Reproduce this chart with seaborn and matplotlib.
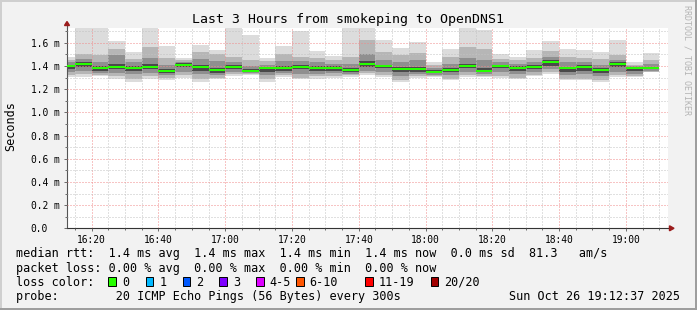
import numpy as np
import pandas as pd
import matplotlib
matplotlib.use("Agg")
import matplotlib.pyplot as plt
import matplotlib.transforms as mtransforms
from matplotlib.patches import Polygon, Rectangle
from matplotlib.lines import Line2D
import seaborn as sns

# ---------------- data ----------------
col_start = ["16:10", "16:15", "16:20", "16:25", "16:30", "16:35", "16:40", "16:45",
             "16:50", "16:55", "17:00", "17:05", "17:10", "17:15", "17:20", "17:25",
             "17:30", "17:35", "17:40", "17:45", "17:50", "17:55", "18:00", "18:05",
             "18:10", "18:15", "18:20", "18:25", "18:30", "18:35", "18:40", "18:45",
             "18:50", "18:55", "19:00", "19:05"]
window_start = "16:12:37"
window_end = "19:12:37"

median = [1.399, 1.414, 1.384, 1.393, 1.384, 1.393, 1.359, 1.412, 1.393, 1.365,
          1.393, 1.359, 1.379, 1.386, 1.395, 1.384, 1.386, 1.365, 1.418, 1.399,
          1.375, 1.377, 1.350, 1.365, 1.399, 1.359, 1.399, 1.384, 1.393, 1.433,
          1.379, 1.393, 1.365, 1.416, 1.384, 1.384]
ping_max = [1.475, 1.80, 1.80, 1.615, 1.517, 1.80, 1.574, 1.466, 1.580, 1.537,
            1.80, 1.666, 1.470, 1.574, 1.702, 1.531, 1.488, 1.80, 1.80, 1.620,
            1.557, 1.606, 1.430, 1.546, 1.80, 1.710, 1.503, 1.480, 1.537, 1.617,
            1.546, 1.537, 1.522, 1.623, 1.436, 1.509]
ping_hi2 = [1.45, 1.50, 1.49, 1.545, 1.46, 1.56, 1.47, 1.45, 1.52, 1.50,
            1.48, 1.45, 1.44, 1.50, 1.48, 1.47, 1.45, 1.48, 1.62, 1.52,
            1.49, 1.51, 1.41, 1.48, 1.56, 1.55, 1.46, 1.45, 1.47, 1.53,
            1.48, 1.47, 1.46, 1.49, 1.41, 1.45]
ping_hi3 = [1.43, 1.46, 1.43, 1.49, 1.43, 1.47, 1.41, 1.43, 1.46, 1.44,
            1.43, 1.40, 1.41, 1.44, 1.44, 1.43, 1.42, 1.42, 1.50, 1.45,
            1.43, 1.45, 1.38, 1.42, 1.47, 1.45, 1.43, 1.42, 1.43, 1.48,
            1.43, 1.43, 1.41, 1.45, 1.40, 1.42]
ping_hi4 = [1.41, 1.43, 1.40, 1.42, 1.40, 1.42, 1.375, 1.425, 1.41, 1.385,
            1.405, 1.375, 1.39, 1.40, 1.41, 1.40, 1.40, 1.38, 1.44, 1.41,
            1.39, 1.395, 1.365, 1.38, 1.42, 1.38, 1.41, 1.40, 1.41, 1.45,
            1.39, 1.41, 1.38, 1.43, 1.395, 1.395]
ping_lo4 = [1.37, 1.39, 1.36, 1.37, 1.36, 1.37, 1.34, 1.39, 1.36, 1.34,
            1.37, 1.345, 1.35, 1.36, 1.37, 1.36, 1.36, 1.35, 1.39, 1.38,
            1.35, 1.35, 1.335, 1.35, 1.38, 1.345, 1.38, 1.36, 1.37, 1.40,
            1.35, 1.36, 1.34, 1.39, 1.36, 1.37]
ping_lo3 = [1.35, 1.36, 1.34, 1.34, 1.33, 1.34, 1.32, 1.35, 1.33, 1.32,
            1.35, 1.335, 1.32, 1.34, 1.33, 1.33, 1.34, 1.33, 1.36, 1.35,
            1.31, 1.33, 1.325, 1.32, 1.35, 1.33, 1.35, 1.33, 1.35, 1.37,
            1.32, 1.33, 1.31, 1.35, 1.33, 1.36]
ping_lo2 = [1.32, 1.33, 1.325, 1.31, 1.29, 1.31, 1.30, 1.32, 1.29, 1.30,
            1.33, 1.33, 1.29, 1.32, 1.30, 1.31, 1.31, 1.32, 1.34, 1.32,
            1.28, 1.31, 1.315, 1.29, 1.32, 1.315, 1.31, 1.30, 1.325, 1.345,
            1.29, 1.29, 1.28, 1.32, 1.315, 1.35]
ping_min = [1.302, 1.307, 1.313, 1.290, 1.264, 1.287, 1.278, 1.298, 1.264, 1.287,
            1.313, 1.322, 1.264, 1.307, 1.284, 1.290, 1.298, 1.307, 1.322, 1.307,
            1.264, 1.293, 1.302, 1.278, 1.302, 1.302, 1.293, 1.290, 1.313, 1.330,
            1.278, 1.278, 1.264, 1.302, 1.302, 1.345]

x_tick_labels = ["16:20", "16:40", "17:00", "17:20", "17:40", "18:00", "18:20", "18:40", "19:00"]
y_ticks = [0.0, 0.2, 0.4, 0.6, 0.8, 1.0, 1.2, 1.4, 1.6]
y_tick_labels = ["0.0", "0.2 m", "0.4 m", "0.6 m", "0.8 m", "1.0 m", "1.2 m", "1.4 m", "1.6 m"]
y_top = 1.727

loss_labels = ["0", "1", "2", "3", "4-5", "6-10", "11-19", "20/20"]
loss_colors = ["#26ff00", "#00b8ff", "#0059ff", "#7e00ff", "#dd00ff", "#ff5500", "#ff0000", "#a10000"]

title = "Last 3 Hours from smokeping to OpenDNS1"
y_label = "Seconds"
watermark = "RRDTOOL / TOBI OETIKER"
line_rtt = "median rtt:  1.4 ms avg  1.4 ms max  1.4 ms min  1.4 ms now  0.0 ms sd  81.3   am/s"
line_loss = "packet loss: 0.00 % avg  0.00 % max  0.00 % min  0.00 % now"
line_color = "loss color:"
line_probe = "probe:        20 ICMP Echo Pings (56 Bytes) every 300s"
stamp = "Sun Oct 26 19:12:37 2025"

# ---------------- style ----------------
W, H = 697, 310
sns.set_theme(style="white")
plt.rcParams["font.family"] = ["DejaVu Sans Mono", "DejaVu Sans"]
plt.rcParams["text.color"] = "black"

fig = plt.figure(figsize=(W / 100, H / 100), dpi=100, facecolor="#f2f2f2")
ax = fig.add_axes([67 / W, (H - 228.3) / H, 601 / W, 200.3 / H])
ax.set_facecolor("white")


def to_min(s):
    parts = [int(p) for p in s.split(":")]
    sec = parts[2] if len(parts) > 2 else 0
    return parts[0] * 60 + parts[1] - 960 + sec / 60.0


starts = np.array([to_min(s) for s in col_start])
step = 5.0
edges = np.append(starts, starts[-1] + step)


def ext(a):
    a = np.asarray(a, dtype=float)
    return np.append(a, a[-1])


layers = [(ping_min, ping_max, "#dcdcdc"),
          (ping_lo2, ping_hi2, "#b6b6b6"),
          (ping_lo3, ping_hi3, "#8f8f8f"),
          (ping_lo4, ping_hi4, "#4a4a4a")]
for lo, hi, c in layers:
    ax.fill_between(edges, ext(lo), ext(hi), step="post", color=c, linewidth=0, zorder=1)

n = len(median)
df = pd.DataFrame({
    "t": np.concatenate([starts, starts + step]),
    "median": np.concatenate([median, median]),
    "col": np.concatenate([np.arange(n), np.arange(n)]),
})
sns.lineplot(data=df, x="t", y="median", units="col", estimator=None, color=loss_colors[0],
             linewidth=1.45, ax=ax, zorder=3, legend=False, solid_capstyle="butt")

ax.set_xlim(to_min(window_start), to_min(window_end))
ax.set_ylim(0, y_top)
ax.set_xlabel("")
ax.set_ylabel("")

ax.set_xticks([to_min(s) for s in x_tick_labels])
ax.set_xticklabels(x_tick_labels)
ax.set_xticks(np.arange(15, 192, 5), minor=True)
ax.set_yticks(y_ticks)
ax.set_yticklabels(y_tick_labels)
ax.set_yticks(np.arange(0.1, 1.75, 0.1), minor=True)

ax.grid(True, which="major", color="#f08a8a", linestyle=(0, (1, 2)), linewidth=0.72)
ax.grid(True, which="minor", color="#c2c2c2", linestyle=(0, (1, 2)), linewidth=0.72)
ax.set_axisbelow(False)

for s in ["top", "right"]:
    ax.spines[s].set_visible(False)
ax.spines["left"].set_color("#555555")
ax.spines["bottom"].set_color("#333333")
ax.spines["left"].set_linewidth(0.8)
ax.spines["bottom"].set_linewidth(0.8)

ax.tick_params(axis="both", which="both", direction="out", color="#555555", width=0.6,
               bottom=True, left=True, labelcolor="black")
ax.tick_params(axis="both", which="major", length=2)
ax.tick_params(axis="both", which="minor", length=1.2)
ax.tick_params(axis="x", which="major", labelsize=6.9, pad=2.6)
ax.tick_params(axis="y", which="major", labelsize=6.9, pad=24.1)
plt.setp(ax.yaxis.get_majorticklabels(), ha="left")

# axis arrows
arrow_c = "#9b1c1c"
t_top = fig.dpi_scale_trans + mtransforms.ScaledTranslation(0, 1, ax.transAxes)
ax.add_line(Line2D([0, 0], [0, 0.03], transform=t_top, color="#555555", lw=0.8, clip_on=False))
ax.add_patch(Polygon([(-0.025, 0.025), (0.025, 0.025), (0, 0.065)], closed=True,
                     transform=t_top, color=arrow_c, clip_on=False, zorder=4))
t_right = fig.dpi_scale_trans + mtransforms.ScaledTranslation(1, 0, ax.transAxes)
ax.add_line(Line2D([0, 0.02], [0, 0], transform=t_right, color="#333333", lw=0.8, clip_on=False))
ax.add_patch(Polygon([(0.015, -0.025), (0.015, 0.025), (0.06, 0)], closed=True,
                     transform=t_right, color=arrow_c, clip_on=False, zorder=4))

# frame shading
fig.add_artist(Rectangle((0, 1 - 2 / H), 1, 2 / H, transform=fig.transFigure, color="#cfcfcf", lw=0))
fig.add_artist(Rectangle((0, 0), 2 / W, 1, transform=fig.transFigure, color="#cfcfcf", lw=0))
fig.add_artist(Rectangle((0, 0), 1, 2 / H, transform=fig.transFigure, color="#9e9e9e", lw=0))
fig.add_artist(Rectangle((1 - 2 / W, 0), 2 / W, 1, transform=fig.transFigure, color="#9e9e9e", lw=0))

# texts
fig.text(348.5 / W, 1 - 23.3 / H, title, ha="center", va="baseline", fontsize=9.5)
fig.text(11 / W, 1 - 126 / H, y_label, rotation=90, ha="center", va="center", fontsize=8.5)
fig.text(686.7 / W, 1 - 5 / H, watermark, rotation=270, ha="center", va="top",
         fontsize=6, color="#b4b4b4")

lx = 16 / W
fig.text(lx, 1 - 257.3 / H, line_rtt, ha="left", va="baseline", fontsize=8.5)
fig.text(lx, 1 - 271.7 / H, line_loss, ha="left", va="baseline", fontsize=8.5)
fig.text(lx, 1 - 285.7 / H, line_color, ha="left", va="baseline", fontsize=8.5)
fig.text(lx, 1 - 300 / H, line_probe, ha="left", va="baseline", fontsize=8.5)
fig.text(680 / W, 1 - 300 / H, stamp, ha="right", va="baseline", fontsize=8.5)

box_x = [108.3, 145.7, 182.7, 219.3, 256.0, 296.0, 365.3, 430.7]
for bx, lab, c in zip(box_x, loss_labels, loss_colors):
    fig.add_artist(Rectangle((bx / W, 1 - 286 / H), 7.7 / W, 8.7 / H, transform=fig.transFigure,
                             facecolor=c, edgecolor="black", lw=0.7))
    fig.text((bx + 13.5) / W, 1 - 285.7 / H, lab, ha="left", va="baseline", fontsize=8.5)

fig.savefig("out.png", dpi=100, facecolor=fig.get_facecolor())
